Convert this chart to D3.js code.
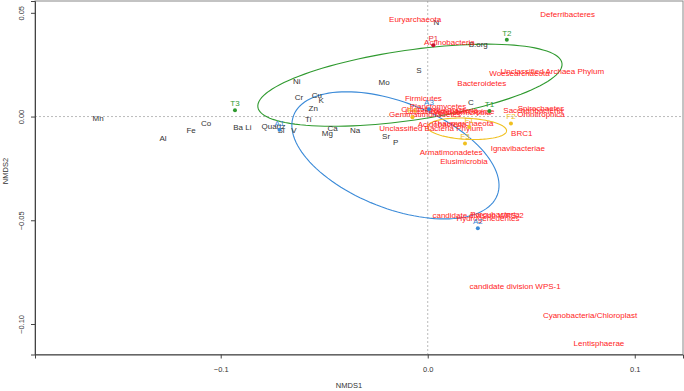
<!DOCTYPE html>
<html>
<head>
<meta charset="utf-8">
<script src="https://cdn.jsdelivr.net/npm/d3@7"></script>
<style>
  body { margin: 0; background: #fff; }
  svg { display: block; font-family: "Liberation Sans", Arial, sans-serif; }
</style>
</head>
<body>
<div id="graph"></div>
<script>
// environmental variables (black)
let envData = [
  ["Mn", -0.1592, -0.0008], ["Al", -0.1279, -0.0105], ["Fe", -0.1143, -0.0066],
  ["Co", -0.1071, -0.0032], ["Ba", -0.0916, -0.0052], ["Li", -0.0866, -0.0052],
  ["Quartz", -0.0745, -0.0047], ["Si", -0.0709, -0.0066], ["V", -0.0646, -0.0066],
  ["Ni", -0.0633, 0.0172], ["Cr", -0.0622, 0.0095], ["Cu", -0.0536, 0.0101],
  ["K", -0.0515, 0.0079], ["Zn", -0.0553, 0.0042], ["Ti", -0.0577, -0.0012],
  ["Mo", -0.0211, 0.0164], ["S", -0.0042, 0.0225], ["Ca", -0.0459, -0.0058],
  ["Mg", -0.0485, -0.0079], ["Na", -0.0351, -0.0066], ["Sr", -0.0201, -0.0094],
  ["P", -0.0155, -0.0126], ["N", 0.0042, 0.0454], ["B.org", 0.0244, 0.0349],
  ["C", 0.0209, 0.0067]
];

// taxa (red)
let taxaData = [
  ["Euryarchaeota", -0.0061, 0.0469], ["Actinobacteria", 0.0105, 0.0360],
  ["Deferribacteres", 0.0676, 0.0493], ["Unclassified Archaea Phylum", 0.0602, 0.0217],
  ["Woesearchaeota", 0.0443, 0.0208], ["Bacteroidetes", 0.0261, 0.0159],
  ["Firmicutes", -0.0021, 0.0087], ["Planctomycetes", 0.0050, 0.0052],
  ["Chloroflexi", -0.0037, 0.0035], ["Latescibacteria", 0.0021, 0.0026],
  ["Proteobacteria", 0.0117, 0.0030], ["Verrucomicrobia", 0.0166, 0.0023],
  ["Nitrospirae", 0.0229, 0.0028], ["Saccharibacteria", 0.0509, 0.0033],
  ["Spirochaetes", 0.0547, 0.0038], ["Omnitrophica", 0.0547, 0.0011],
  ["Gemmatimonadetes", -0.0013, 0.0009], ["Acidobacteria", 0.0069, -0.0035],
  ["Thaumarchaeota", 0.0171, -0.0032], ["Unclassified Bacteria Phylum", 0.0016, -0.0054],
  ["Armatimonadetes", 0.0113, -0.0171], ["Elusimicrobia", 0.0175, -0.0214],
  ["BRC1", 0.0454, -0.0079], ["Ignavibacteriae", 0.0435, -0.0152],
  ["candidate division WPS-2", 0.0243, -0.0477], ["Parcubacteria", 0.0325, -0.0472],
  ["Hydrogenedentes", 0.0291, -0.0491], ["candidate division WPS-1", 0.0422, -0.0820],
  ["Cyanobacteria/Chloroplast", 0.0784, -0.0957], ["Lentisphaerae", 0.0827, -0.1093]
];

// sites: name, group, NMDS1, NMDS2
let siteData = [
  ["T1", "T", 0.0298, 0.0027], ["T2", "T", 0.0382, 0.0370], ["T3", "T", -0.0931, 0.0030],
  ["A1", "A", -0.0716, -0.0064], ["A2", "A", 0.0242, -0.0538], ["A3", "A", 0.0006, 0.0035],
  ["F1", "F", 0.0200, -0.0050], ["F2", "F", 0.0402, -0.0034], ["F3", "F", 0.0180, -0.0130],
  ["F4", "F", -0.0074, -0.0003], ["P1", "P", 0.0027, 0.0344]
];

// ellipses: group, centre x, centre y, semi-axis a, semi-axis b, angle (deg)
let ellipseData = [
  ["T", -0.0086, 0.0151, 0.0742, 0.0169, 8.2],
  ["A", -0.0156, -0.0187, 0.0528, 0.0256, -21.4],
  ["F", 0.0190, -0.0059, 0.0191, 0.0051, -3]
];

let xTicks = [-0.1, 0.0, 0.1];
let yTicks = [0.05, 0.00, -0.05, -0.10];

let groupColor = { T: "#2f9a2f", A: "#3a8ad8", F: "#f0c020", P: "#c8102e" };
let labelColor = { T: "#2f9a2f", A: "#3a8ad8", F: "#f0c020", P: "#e8303a" };

let W = 684, H = 391;
let m = { left: 35, top: 1, right: 1, bottom: 36.5 };

let svg = d3.select("#graph").append("svg")
  .attr("width", W)
  .attr("height", H);

let xScale = d3.scaleLinear()
  .domain([-0.1897, 0.1233])
  .range([m.left, W - m.right]);

let yScale = d3.scaleLinear()
  .domain([-0.1147, 0.0557])
  .range([H - m.bottom, m.top]);

// zero reference lines
svg.append("line")
  .attr("x1", xScale(0)).attr("x2", xScale(0))
  .attr("y1", yScale.range()[1]).attr("y2", yScale.range()[0])
  .attr("stroke", "#bbb").attr("stroke-dasharray", "2,2");
svg.append("line")
  .attr("x1", xScale.range()[0]).attr("x2", xScale.range()[1])
  .attr("y1", yScale(0)).attr("y2", yScale(0))
  .attr("stroke", "#bbb").attr("stroke-dasharray", "2,2");

// ellipses
let line = d3.line()
  .x(d => xScale(d[0]))
  .y(d => yScale(d[1]))
  .curve(d3.curveLinearClosed);

ellipseData.forEach(function (e) {
  let rad = e[5] * Math.PI / 180;
  let pts = d3.range(0, 120).map(function (i) {
    let t = i / 120 * 2 * Math.PI;
    let u = e[3] * Math.cos(t), v = e[4] * Math.sin(t);
    return [e[1] + u * Math.cos(rad) - v * Math.sin(rad),
            e[2] + u * Math.sin(rad) + v * Math.cos(rad)];
  });
  svg.append("path")
    .attr("d", line(pts))
    .attr("fill", "none")
    .attr("stroke", groupColor[e[0]])
    .attr("stroke-width", 1.1);
});

// environmental labels
svg.append("g").selectAll("text")
  .data(envData)
  .enter().append("text")
  .attr("x", d => xScale(d[1]))
  .attr("y", d => yScale(d[2]))
  .attr("dy", "0.35em")
  .attr("text-anchor", "middle")
  .attr("font-size", 8)
  .attr("fill", "#333")
  .text(d => d[0]);

// taxa labels
svg.append("g").selectAll("text")
  .data(taxaData)
  .enter().append("text")
  .attr("x", d => xScale(d[1]))
  .attr("y", d => yScale(d[2]))
  .attr("dy", "0.35em")
  .attr("text-anchor", "middle")
  .attr("font-size", 8)
  .attr("fill", "#ff2424")
  .text(d => d[0]);

// sites
let sites = svg.append("g").selectAll("g")
  .data(siteData)
  .enter().append("g");

sites.append("circle")
  .attr("cx", d => xScale(d[2]))
  .attr("cy", d => yScale(d[3]))
  .attr("r", 2)
  .attr("fill", d => groupColor[d[1]]);

sites.append("text")
  .attr("x", d => xScale(d[2]))
  .attr("y", d => yScale(d[3]) - 7)
  .attr("dy", "0.35em")
  .attr("text-anchor", "middle")
  .attr("font-size", 8)
  .attr("fill", d => labelColor[d[1]])
  .text(d => d[0]);

// frame
svg.append("rect")
  .attr("x", xScale.range()[0])
  .attr("y", yScale.range()[1])
  .attr("width", xScale.range()[1] - xScale.range()[0])
  .attr("height", yScale.range()[0] - yScale.range()[1])
  .attr("fill", "none")
  .attr("stroke", "#888");

// axes
let xAxis = d3.axisBottom(xScale)
  .tickValues(xTicks)
  .tickSize(4)
  .tickFormat(d3.format(".1f"));
let yAxis = d3.axisLeft(yScale)
  .tickValues(yTicks)
  .tickSize(4)
  .tickFormat(d3.format(".2f"));

let gx = svg.append("g")
  .attr("transform", "translate(0," + yScale.range()[0] + ")")
  .call(xAxis);
gx.select(".domain").attr("stroke", "#444");
gx.selectAll(".tick line").attr("stroke", "#444");
gx.selectAll(".tick text")
  .attr("font-size", 7.5)
  .attr("font-family", "Liberation Sans, Arial, sans-serif")
  .attr("fill", "#333")
  .attr("y", 12);

let gy = svg.append("g")
  .attr("transform", "translate(" + xScale.range()[0] + ",0)")
  .call(yAxis);
gy.select(".domain").attr("stroke", "#444");
gy.selectAll(".tick line").attr("stroke", "#444");
gy.selectAll(".tick text")
  .attr("font-size", 7.5)
  .attr("font-family", "Liberation Sans, Arial, sans-serif")
  .attr("fill", "#333")
  .attr("x", 0).attr("y", 0).attr("dy", 0)
  .attr("text-anchor", "middle")
  .attr("transform", "translate(-11,0) rotate(-90)");

// axis titles
svg.append("text")
  .attr("x", (xScale.range()[0] + xScale.range()[1]) / 2 - 10)
  .attr("y", 388)
  .attr("text-anchor", "middle")
  .attr("font-size", 7.5)
  .attr("fill", "#333")
  .text("NMDS1");

svg.append("text")
  .attr("transform", "translate(8,171) rotate(-90)")
  .attr("text-anchor", "middle")
  .attr("font-size", 7.5)
  .attr("fill", "#333")
  .text("NMDS2");
</script>
</body>
</html>
